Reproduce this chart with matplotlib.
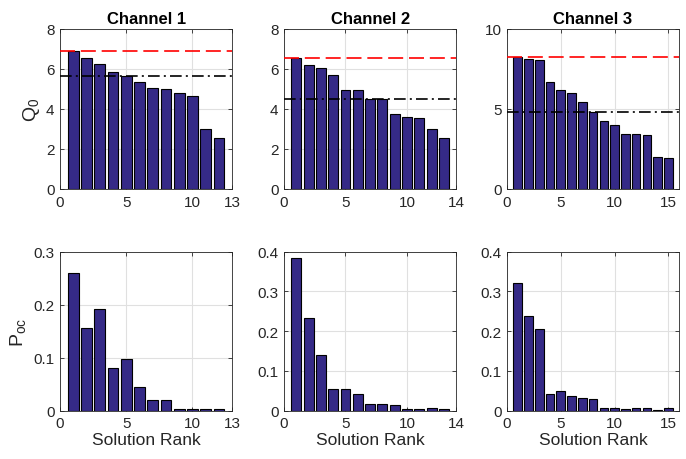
import matplotlib.pyplot as plt
import numpy as np

plt.rcParams['font.family'] = ['Liberation Sans', 'DejaVu Sans']

# Q0 per solution rank for each channel
q0_ch1 = [6.92, 6.53, 6.25, 5.85, 5.67, 5.35, 5.07, 4.98, 4.78, 4.65, 2.98, 2.53]
q0_ch2 = [6.57, 6.18, 6.03, 5.68, 4.97, 4.97, 4.48, 4.48, 3.75, 3.60, 3.57, 3.02, 2.53]
q0_ch3 = [8.25, 8.10, 8.08, 6.67, 6.21, 6.02, 5.42, 4.81, 4.23, 3.98, 3.46, 3.42, 3.38, 2.00, 1.96]

# reference levels (red dashed = best, black dash-dot = threshold)
q0_best = [6.92, 6.57, 8.25]
q0_thresh = [5.67, 4.48, 4.81]

# probability of occurrence per solution rank
poc_ch1 = [0.260, 0.155, 0.191, 0.080, 0.097, 0.044, 0.020, 0.020, 0.0025, 0.004, 0.0025, 0.0025]
poc_ch2 = [0.383, 0.233, 0.141, 0.055, 0.055, 0.043, 0.017, 0.017, 0.014, 0.004, 0.004, 0.006, 0.004]
poc_ch3 = [0.320, 0.239, 0.205, 0.041, 0.050, 0.036, 0.032, 0.030, 0.008, 0.008, 0.005, 0.008, 0.008, 0.003, 0.0065]

titles = ['Channel 1', 'Channel 2', 'Channel 3']
x_max = [13, 14, 16]
x_ticks = [[0, 5, 10, 13], [0, 5, 10, 14], [0, 5, 10, 15]]
q0_ylim = [8, 8, 10]
q0_yticks = [[0, 2, 4, 6, 8], [0, 2, 4, 6, 8], [0, 5, 10]]
poc_ylim = [0.3, 0.4, 0.4]
poc_yticks = [[0, 0.1, 0.2, 0.3], [0, 0.1, 0.2, 0.3, 0.4], [0, 0.1, 0.2, 0.3, 0.4]]

bar_color = '#352A87'
axis_gray = '#262626'

fig = plt.figure(figsize=(6.86, 4.60), dpi=100)
lefts = [0.0875, 0.414, 0.739]
w = 0.251


def style(ax, xmax, xt, ymax, yt):
    ax.set_xlim(0, xmax)
    ax.set_ylim(0, ymax)
    ax.set_xticks(xt)
    ax.set_xticklabels(['%g' % v for v in xt])
    ax.set_yticks(yt)
    ax.set_yticklabels(['%g' % v for v in yt])
    ax.grid(True, color='#e0e0e0', linewidth=0.8)
    ax.set_axisbelow(True)
    ax.tick_params(direction='in', top=True, right=True, labelsize=11,
                   colors=axis_gray, length=3, width=0.6, pad=4)
    for s in ax.spines.values():
        s.set_color(axis_gray)
        s.set_linewidth(0.6)


q0_all = [q0_ch1, q0_ch2, q0_ch3]
poc_all = [poc_ch1, poc_ch2, poc_ch3]

for i in range(3):
    # top row: Q0
    ax = fig.add_axes([lefts[i], 0.587, w, 0.348])
    ranks = np.arange(1, len(q0_all[i]) + 1)
    ax.bar(ranks, q0_all[i], width=0.8, color=bar_color, edgecolor='black', linewidth=0.8, zorder=2)
    ax.plot([0, x_max[i]], [q0_best[i]] * 2, color='red', linestyle=(0, (9, 3.5)), linewidth=1.2, zorder=3)
    ax.plot([0, x_max[i]], [q0_thresh[i]] * 2, color='black', linestyle=(0, (7, 2.5, 1.2, 2.5)), linewidth=1.2, zorder=3)
    style(ax, x_max[i], x_ticks[i], q0_ylim[i], q0_yticks[i])
    ax.set_title(titles[i], fontsize=12, fontweight='bold', pad=4)
    if i == 0:
        ax.set_ylabel(r'Q$_\mathregular{0}$', fontsize=14, color=axis_gray, labelpad=3)

    # bottom row: P_oc
    ax = fig.add_axes([lefts[i], 0.105, w, 0.346])
    ranks = np.arange(1, len(poc_all[i]) + 1)
    ax.bar(ranks, poc_all[i], width=0.8, color=bar_color, edgecolor='black', linewidth=0.8, zorder=2)
    style(ax, x_max[i], x_ticks[i], poc_ylim[i], poc_yticks[i])
    ax.set_xlabel('Solution Rank', fontsize=12.5, color=axis_gray, labelpad=1)
    if i == 0:
        ax.set_ylabel(r'P$_\mathregular{oc}$', fontsize=14, color=axis_gray, labelpad=3)

fig.savefig('out.png', dpi=100)
